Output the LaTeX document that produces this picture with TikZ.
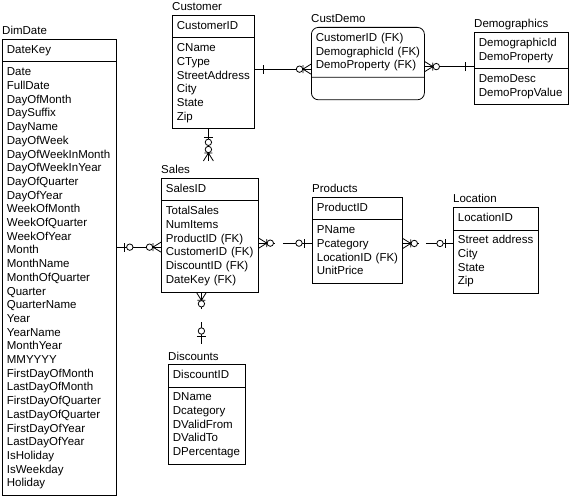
\documentclass[tikz,border=0pt]{standalone}
\usepackage{fontspec}
\setmainfont{Liberation Sans}
\usetikzlibrary{positioning,shapes.multipart,decorations.markings}
\newcommand{\fk}[1]{#1~(FK)}

\begin{document}
\begin{tikzpicture}[x=1pt,y=-1pt,%
  ent/.style={rectangle split,rectangle split parts=2,draw,line width=0.8pt,anchor=north west,%
    inner xsep=4.5pt,inner ysep=4pt,align=left,font=\fontsize{11.5}{13.7}\selectfont},%
  ttl/.style={anchor=base west,inner sep=0pt,font=\fontsize{11.5}{13.7}\selectfont},%
  rel/.style={line width=0.8pt},%
  tick/.style={solid,line width=0.8pt},%
  one end/.style={postaction={decorate,decoration={markings,mark=at position 1 with
    {\draw[tick] (-9pt,-4.5pt) -- (-9pt,4.5pt);}}}},%
  one start/.style={postaction={decorate,decoration={markings,mark=at position 0 with
    {\draw[tick] (9pt,-4.5pt) -- (9pt,4.5pt);}}}},%
  opt start/.style={postaction={decorate,decoration={markings,mark=at position 0 with
    {\draw[tick] (8pt,-4.5pt) -- (8pt,4.5pt); \draw[tick,fill=white] (13pt,0pt) circle (3.2pt);}}}},%
  opt end/.style={postaction={decorate,decoration={markings,mark=at position 1 with
    {\draw[tick] (-8pt,-4.5pt) -- (-8pt,4.5pt); \draw[tick,fill=white] (-13pt,0pt) circle (3.2pt);}}}},%
  many start/.style={postaction={decorate,decoration={markings,mark=at position 0 with
    {\draw[tick] (0pt,-5pt) -- (8pt,0pt) -- (0pt,5pt) (8pt,-4pt) -- (8pt,4pt);
     \draw[tick,fill=white] (11.5pt,0pt) circle (3.2pt);}}}},%
  many end/.style={postaction={decorate,decoration={markings,mark=at position 1 with
    {\draw[tick] (0pt,-5pt) -- (-8pt,0pt) -- (0pt,5pt) (-8pt,-4pt) -- (-8pt,4pt);
     \draw[tick,fill=white] (-11.5pt,0pt) circle (3.2pt);}}}}%
  ]
  \useasboundingbox (0,0) rectangle (570,497);
%
  \node (dimdate) [ent,text width=105pt] at (2,39) {\strut DateKey\nodepart{second}\strut Date\\FullDate\\DayOfMonth\\DaySuffix\\DayName\\DayOfWeek\\DayOfWeekInMonth\\DayOfWeekInYear\\DayOfQuarter\\DayOfYear\\WeekOfMonth\\WeekOfQuarter\\WeekOfYear\\Month\\MonthName\\MonthOfQuarter\\Quarter\\QuarterName\\Year\\YearName\\MonthYear\\MMYYYY\\FirstDayOfMonth\\LastDayOfMonth\\FirstDayOfQuarter\\LastDayOfQuarter\\FirstDayOfYear\\LastDayOfYear\\IsHoliday\\IsWeekday\\Holiday\strut};
  \node (customer) [ent,text width=73pt] at (172,15) {\strut CustomerID\nodepart{second}\strut CName\\CType\\StreetAddress\\City\\State\\Zip\strut};
  \node (custdemo) [ent,rounded corners=7pt,text width=104pt] at (311,27) {\strut\fk{CustomerID}\\\fk{DemographicId}\\\fk{DemoProperty}\strut\nodepart{second}\strut};
  \node (demographics) [ent,text width=85pt] at (474,32) {\strut DemographicId\\DemoProperty\strut\nodepart{second}\strut DemoDesc\\DemoPropValue\strut};
  \node (sales) [ent,text width=88pt] at (161,178) {\strut SalesID\nodepart{second}\strut TotalSales\\NumItems\\\fk{ProductID}\\\fk{CustomerID}\\\fk{DiscountID}\\\fk{DateKey}\strut};
  \node (products) [ent,text width=81pt] at (312,197) {\strut ProductID\nodepart{second}\strut PName\\Pcategory\\\fk{LocationID}\\UnitPrice\strut};
  \node (location) [ent,text width=76pt] at (453,207) {\strut LocationID\nodepart{second}\strut Street~address\\City\\State\\Zip\strut};
  \node (discounts) [ent,text width=68pt] at (168,364) {\strut DiscountID\nodepart{second}\strut DName\\Dcategory\\DValidFrom\\DValidTo\\DPercentage\strut};
%
  \node (dimdate-t) [ttl] at ([yshift=4pt]dimdate.north west) {DimDate};
  \node (customer-t) [ttl] at ([yshift=4pt]customer.north west) {Customer};
  \node (custdemo-t) [ttl] at ([yshift=4pt]custdemo.north west) {CustDemo};
  \node (demographics-t) [ttl] at ([yshift=4pt]demographics.north west) {Demographics};
  \node (sales-t) [ttl] at ([yshift=4pt]sales.north west) {Sales};
  \node (products-t) [ttl] at ([yshift=4pt]products.north west) {Products};
  \node (location-t) [ttl] at ([yshift=4pt]location.north west) {Location};
  \node (discounts-t) [ttl] at ([yshift=4pt]discounts.north west) {Discounts};
%
  \coordinate (cu-r) at ([yshift=3pt]customer.east);
  \coordinate (cd-r) at ([yshift=-3pt]custdemo.east);
  \coordinate (cu-b) at ([xshift=-5pt]customer.south);
  \coordinate (sa-t) at ([yshift=17pt]sales.north);
  \coordinate (sa-l) at ([yshift=-12pt]sales.west);
  \coordinate (sa-r) at ([yshift=-8pt]sales.east);
  \coordinate (pr-r) at ([yshift=-3pt]products.east);
  \coordinate (sa-b) at ([xshift=-8.5pt]sales.south);
  \coordinate (di-t) at ([yshift=20pt]discounts.north);
%
  \draw[rel,one start,many end] (cu-r) -- (cu-r -| custdemo.west);
  \draw[rel,many start,one end] (cd-r) -- (cd-r -| demographics.west);
  \draw[rel,opt start,many end] (cu-b) -- (cu-b |- sa-t);
  \draw[rel,opt start,many end] (sa-l -| dimdate.east) -- (sa-l);
  \draw[rel,many start,opt end,dash pattern=on 16pt off 8pt on 60pt off 0pt] (sa-r) -- (sa-r -| products.west);
  \draw[rel,many start,opt end,dash pattern=on 16pt off 7pt on 60pt off 0pt] (pr-r) -- (pr-r -| location.west);
  \draw[rel,many start,opt end,dash pattern=on 17pt off 13pt on 60pt off 0pt] (sa-b) -- (sa-b |- di-t);
%
\end{tikzpicture}
\end{document}
